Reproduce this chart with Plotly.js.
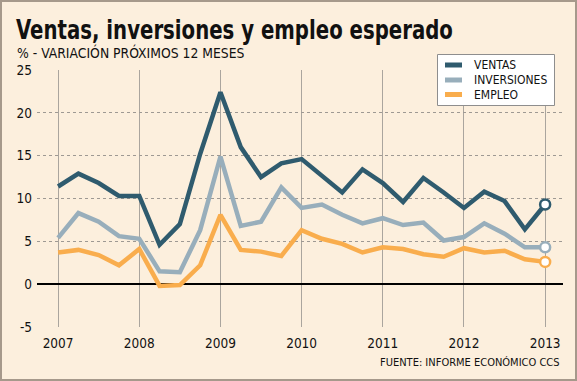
<!DOCTYPE html>
<html><head><meta charset="utf-8">
<script src="https://cdn.plot.ly/plotly-3.0.1.min.js"></script>
<style>
html,body{margin:0;padding:0;background:#FCEFDD;}
#wrap{position:relative;width:577px;height:381px;}
#chart{width:577px;height:381px;}
#frame{position:absolute;left:0;top:0;width:577px;height:381px;box-sizing:border-box;border:2px solid #A6998B;pointer-events:none;}
</style></head>
<body><div id="wrap"><div id="chart"></div><div id="frame"></div></div>
<script>
const quarters = [2007,2007.25,2007.5,2007.75,2008,2008.25,2008.5,2008.75,2009,2009.25,2009.5,2009.75,2010,2010.25,2010.5,2010.75,2011,2011.25,2011.5,2011.75,2012,2012.25,2012.5,2012.75,2013];
const ventas = [11.4,12.9,11.8,10.3,10.3,4.6,7.0,15.2,22.4,16.0,12.5,14.1,14.6,12.7,10.7,13.4,11.8,9.6,12.4,10.7,8.9,10.8,9.7,6.4,9.3];
const inversiones = [5.4,8.3,7.3,5.6,5.3,1.5,1.4,6.3,14.9,6.8,7.3,11.3,8.9,9.3,8.1,7.1,7.7,6.9,7.2,5.1,5.5,7.1,5.9,4.3,4.3];
const empleo = [3.7,4.0,3.4,2.2,4.1,-0.2,-0.1,2.2,8.1,4.0,3.8,3.3,6.3,5.3,4.7,3.7,4.3,4.1,3.5,3.2,4.2,3.7,3.9,2.9,2.6];
const seriesNames = ["VENTAS","INVERSIONES","EMPLEO"];
const seriesColors = ["#2F5B6E","#98AEBB","#F9AD4D"];
const yearTicks = [2007,2008,2009,2010,2011,2012,2013];
const yTicks = [-5,0,5,10,15,20,25];

const FONT = "'DejaVu Sans Condensed', 'DejaVu Sans', sans-serif";
const W = 577, H = 381, ML = 37, MR = 14, MT = 70, MB = 54;
const PW = W-ML-MR, PH = H-MT-MB;
const px = v => (v-ML)/PW;          // pixel -> paper x
const py = v => (H-MB-v)/PH;        // pixel -> paper y

const all = [ventas, inversiones, empleo];
const traces = [];
all.forEach((s,i)=>{
  traces.push({x:quarters,y:s,type:'scatter',mode:'lines',name:seriesNames[i],showlegend:false,
    line:{color:seriesColors[i],width:4.5},hoverinfo:'skip'});
});
all.forEach((s,i)=>{
  const n = s.length-1;
  traces.push({x:[quarters[n]],y:[s[n]],type:'scatter',mode:'markers',showlegend:false,
    marker:{size:10,color:'#FFFFFF',line:{color:seriesColors[i],width:2.5}},hoverinfo:'skip'});
});

// manual legend
const shapes = [{type:'rect',xref:'paper',yref:'paper',x0:px(437.5),x1:px(554.5),y0:py(105.5),y1:py(54.5),
  fillcolor:'#FFFFFF',line:{color:'#8E8E8E',width:1},layer:'above'}];
const annotations = [];
const rowY = [65,80,94.5];
seriesNames.forEach((nm,i)=>{
  shapes.push({type:'line',xref:'paper',yref:'paper',x0:px(445),x1:px(462),y0:py(rowY[i]),y1:py(rowY[i]),
    line:{color:seriesColors[i],width:5},layer:'above'});
  annotations.push({text:nm,xref:'paper',yref:'paper',x:px(472),y:py(rowY[i]),xanchor:'left',yanchor:'middle',
    showarrow:false,font:{size:12,color:'#111'}});
});
annotations.push({text:'% - VARIACIÓN PRÓXIMOS 12 MESES',xref:'paper',yref:'paper',
  x:px(15),xanchor:'left',y:py(52.5),yanchor:'middle',showarrow:false,font:{size:13.8,color:'#111'}});
annotations.push({text:'FUENTE: INFORME ECONÓMICO CCS',xref:'paper',yref:'paper',
  x:px(562),xanchor:'right',y:py(362),yanchor:'middle',showarrow:false,font:{size:11,color:'#111'}});

const layout = {
  width:W,height:H,
  paper_bgcolor:'#FCEFDD',plot_bgcolor:'#FCEFDD',
  margin:{l:ML,r:MR,t:MT,b:MB},
  font:{family:FONT,color:'#111',size:13},
  title:{text:'<b>Ventas, inversiones y empleo esperado</b>',
    font:{family:FONT,size:26,color:'#111'},
    xref:'container',yref:'container',x:16/W,xanchor:'left',y:0.945,yanchor:'top'},
  xaxis:{range:[2006.74,2013.22],tickvals:yearTicks,ticktext:yearTicks.map(String),
    showgrid:true,gridcolor:'#AAA59E',gridwidth:1,zeroline:false,showline:false,
    ticks:'',ticklabelstandoff:6,tickfont:{size:13.5,color:'#111'},fixedrange:true},
  yaxis:{range:[-5,25],tickvals:yTicks,ticktext:yTicks.map(String),
    showgrid:true,gridcolor:'#9E9993',gridwidth:1,griddash:'3px,3px',
    zeroline:true,zerolinecolor:'#000',zerolinewidth:1.5,showline:false,
    ticks:'',ticklabelstandoff:4,tickfont:{size:13.5,color:'#111'},fixedrange:true},
  showlegend:false,
  shapes:shapes,
  annotations:annotations
};
Plotly.newPlot('chart',traces,layout,{displayModeBar:false,staticPlot:true}).then(gd=>{
  // narrow the bold title horizontally to match the reference's compact face
  const t = gd.querySelector('.gtitle');
  if (t) {
    const bb = t.getBBox();
    const target = 437;
    if (bb.width > 0) {
      const sx = target / bb.width;
      const x0 = bb.x;
      t.setAttribute('transform', `translate(${x0},0) scale(${sx},1) translate(${-x0},0)`);
    }
  }
});
</script></body></html>
